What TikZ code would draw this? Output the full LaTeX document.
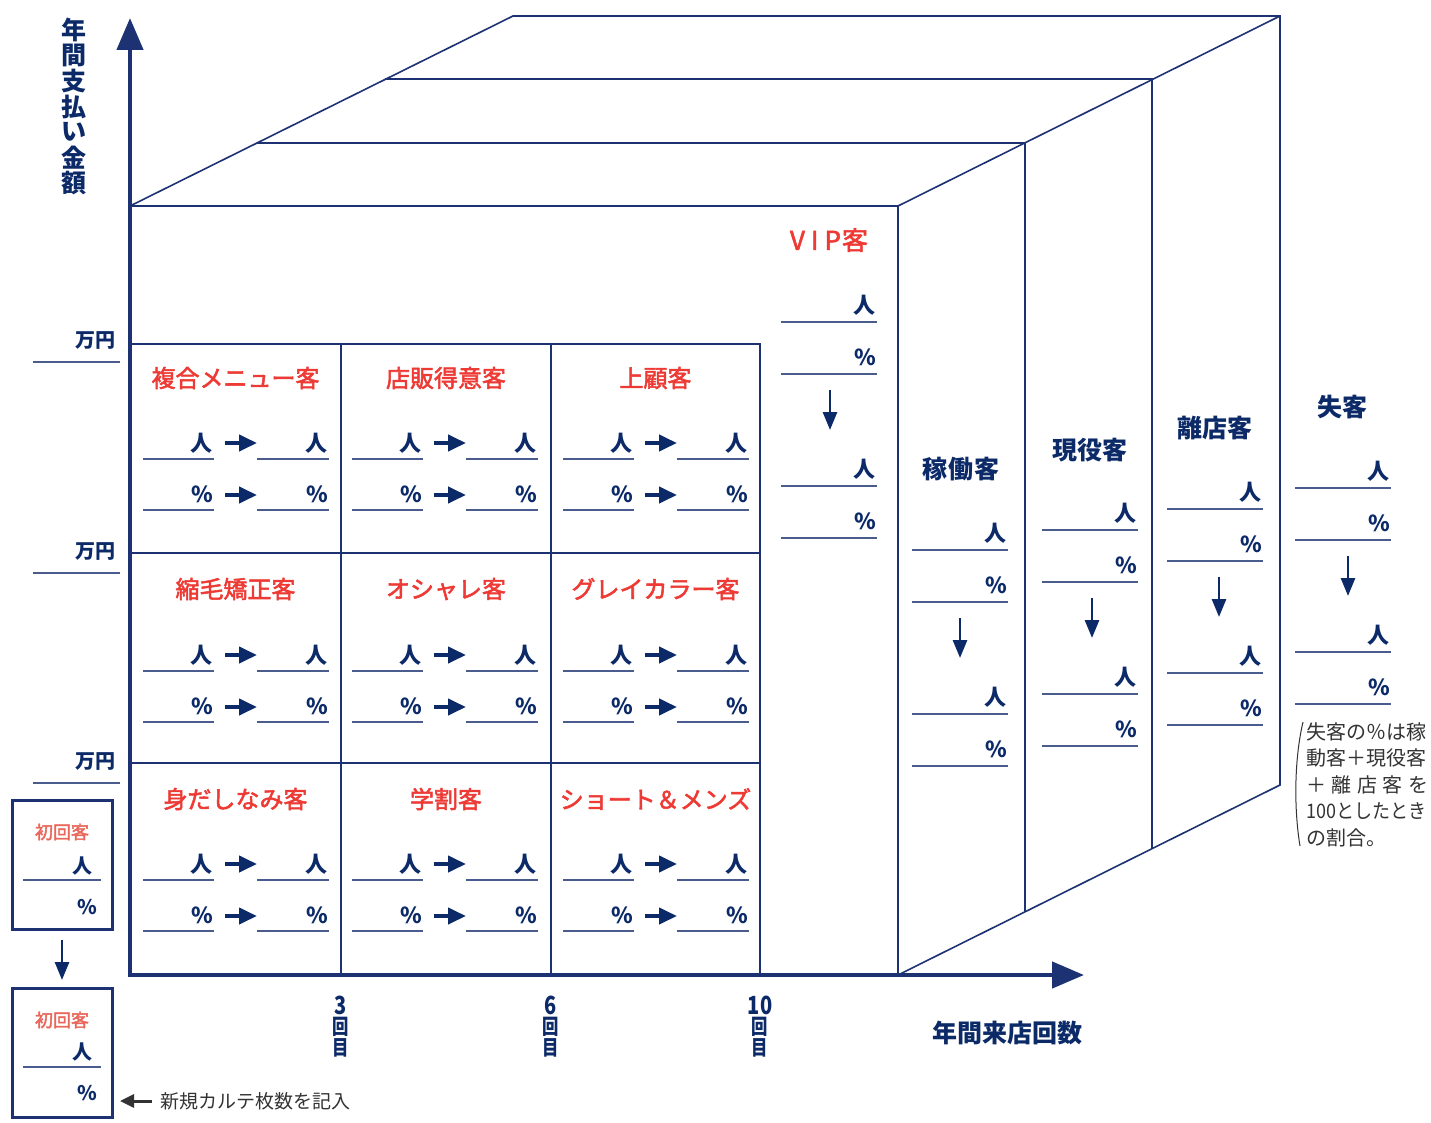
\documentclass[tikz,border=0pt]{standalone}
\usepackage{fontspec}
\usepackage{graphicx}
\newfontfamily\jp{Noto Sans CJK JP}
\newfontfamily\jpm{Noto Sans CJK JP}[FakeBold=2.2]
\usetikzlibrary{arrows.meta}
\definecolor{navy}{HTML}{0C2A68}
\definecolor{framec}{HTML}{1D3272}
\definecolor{ulc}{HTML}{4A5C8E}
\definecolor{redt}{HTML}{EE3A35}
\definecolor{pinkt}{HTML}{E8675A}
\definecolor{grayt}{HTML}{333333}
\newcommand\fs[1]{\fontsize{#1}{#1}\selectfont}
\tikzset{
 frameline/.style={draw=framec, line width=1.6pt},
 ul/.style={draw=ulc, line width=2.2pt},
 unit/.style={font=\jp\bfseries\fs{22}, text=navy, inner sep=0pt, anchor=base east},
 redtitle/.style={font=\jpm\fs{24}, text=redt, inner sep=0pt},
 navytitle/.style={font=\jp\bfseries\fs{25}, text=navy, inner sep=0pt},
 rarrow/.style={draw=navy, line width=4pt, -{Triangle[length=18pt,width=16pt]}},
 darrow/.style={draw=navy, line width=2.8pt, -{Triangle[length=18pt,width=14pt]}},
 axisline/.style={draw=framec, line width=4.5pt, -{Triangle[length=32pt,width=26pt]}},
 garrow/.style={draw=grayt, line width=3pt, -{Triangle[length=14pt,width=13pt]}},
 boxline/.style={draw=framec, line width=3pt, minimum width=100pt, minimum height=129pt, inner sep=0pt},
}
\newcommand\sidecol[4]{%
 \draw[ul] (#1,#2) -- ++(96,0); \node[unit] (#4a) at (#1+95,#2-9) {人};
 \draw[ul] (#1,#2+52) -- ++(96,0); \node[unit] (#4b) at (#1+95,#2+43) {\%};
 \coordinate (#4s) at (#3,#2+68); \coordinate (#4e) at (#3,#2+108);
 \draw[darrow] (#4s) -- (#4e);
 \draw[ul] (#1,#2+164) -- ++(96,0); \node[unit] (#4c) at (#1+95,#2+155) {人};
 \draw[ul] (#1,#2+216) -- ++(96,0); \node[unit] (#4d) at (#1+95,#2+207) {\%};
}
\begin{document}
\begin{tikzpicture}[x=1pt,y=-1pt]
\fill[white] (0,0) rectangle (1431,1123);
\useasboundingbox (0,0) rectangle (1431,1123);
% 3D layered box
\draw[frameline] (130,206) -- (513,16) -- (1280,16) -- (1280,785) -- (898,975);
\draw[frameline] (130,206) -- (898,206) -- (898,975);
\draw[frameline] (898,206) -- (1280,16);
\draw[frameline] (257,143) -- (1025,143) -- (1025,912);
\draw[frameline] (385,79) -- (1152,79) -- (1152,849);
% inner grid
\draw[frameline] (130,344) -- (760,344) -- (760,975);
\draw[frameline] (130,553) -- (760,553);
\draw[frameline] (130,763) -- (760,763);
\draw[frameline] (341,344) -- (341,975);
\draw[frameline] (551,344) -- (551,975);
% axes
\coordinate (origin) at (130,975);
\coordinate (ytip) at (130,18);
\coordinate (xtip) at (1084,975);
\draw[axisline] (130,977) -- (ytip);
\draw[axisline] (128,975) -- (xtip);
% y axis label
\foreach \ch [count=\i] in {年,間,支,払,い,金,額}
  \node[navytitle] (yl\i) at (74,{30+25.5*(\i-1)}) {\ch};
% y ticks
\foreach \ty [count=\i] in {341,552,762} {
  \node[font=\jp\bfseries\fs{20}, text=navy, inner sep=0pt, anchor=east] (man\i) at (116,\ty) {万円};
  \draw[ul] (33,\ty+21) -- (120,\ty+21);
}
% x tick labels
\foreach \tx/\num [count=\i] in {341/3,551/6,760/10} {
  \node[font=\jp\bfseries\fs{25}, text=navy, inner sep=0pt] (xn\i) at (\tx,1005) {\scalebox{0.8}[1]{\num}};
  \node[font=\jp\bfseries\fs{21}, text=navy, inner sep=0pt] (xk\i) at (\tx,1027) {\scalebox{0.78}[1]{回}};
  \node[font=\jp\bfseries\fs{21}, text=navy, inner sep=0pt] (xm\i) at (\tx,1048) {\scalebox{0.78}[1]{目}};
}
\node[navytitle] (xlabel) at (1007,1033) {年間来店回数};
% cell titles
\node[redtitle] (t11) at (235.5,378) {複合メニュー客};
\node[redtitle] (t12) at (446,378) {店販得意客};
\node[redtitle] (t13) at (655.5,378) {上顧客};
\node[redtitle] (t21) at (235.5,589) {縮毛矯正客};
\node[redtitle] (t22) at (446,589) {オシャレ客};
\node[redtitle] (t23) at (655.5,589) {グレイカラー客};
\node[redtitle] (t31) at (235.5,799) {身だしなみ客};
\node[redtitle] (t32) at (446,799) {学割客};
\node[redtitle] (t33) at (655.5,799) {ショート＆メンズ};
% cell contents
\foreach \cx [count=\c] in {143,352,563} {
  \foreach \ry [count=\r] in {459,671,880} {
    \draw[ul] (\cx,\ry) -- ++(71,0);
    \draw[ul] (\cx+114,\ry) -- ++(72,0);
    \node[unit] (pa\r\c) at (\cx+70,\ry-8) {人};
    \node[unit] (pb\r\c) at (\cx+185,\ry-8) {人};
    \coordinate (ps\r\c) at (\cx+82,\ry-16);
    \coordinate (pe\r\c) at (\cx+114,\ry-16);
    \draw[rarrow] (ps\r\c) -- (pe\r\c);
    \draw[ul] (\cx,\ry+51) -- ++(71,0);
    \draw[ul] (\cx+114,\ry+51) -- ++(72,0);
    \node[unit] (qa\r\c) at (\cx+70,\ry+43) {\%};
    \node[unit] (qb\r\c) at (\cx+185,\ry+43) {\%};
    \coordinate (qs\r\c) at (\cx+82,\ry+36);
    \coordinate (qe\r\c) at (\cx+114,\ry+36);
    \draw[rarrow] (qs\r\c) -- (qe\r\c);
  }
}
% VIP column
\node[font=\jpm\fs{26}, text=redt, inner sep=0pt] (vip) at (829,240) {V\hspace{6pt}I\hspace{6pt}P\hspace{1pt}客};
\sidecol{781}{322}{830}{vipc}
% side columns
\node[navytitle] (kado) at (961,469) {稼\hspace{1pt}働\hspace{1pt}客};
\sidecol{912}{550}{960}{kadoc}
\node[navytitle] (geneki) at (1090,450) {現役客};
\sidecol{1042}{530}{1092}{genc}
\node[navytitle] (riten) at (1215,428) {離店客};
\sidecol{1167}{509}{1219}{ritc}
\node[navytitle] (shikkyaku) at (1342,407) {失客};
\sidecol{1295}{488}{1348}{shic}
% note
\draw[grayt, line width=1pt] (1303,722) .. controls (1294,760) and (1294,810) .. (1300,846);
\begin{scope}[every node/.style={font=\jp\fs{20}, text=grayt, inner sep=0pt, anchor=west}]
\node (n1) at (1306,732) {\scalebox{1}[1]{失客の％は稼}};
\node (n2) at (1306,758) {\scalebox{1}[1]{動客＋現役客}};
\node (n3) at (1306,785) {\makebox[122pt][s]{＋\hfill 離\hfill 店\hfill 客\hfill を}};
\node (n4) at (1306,811) {\scalebox{0.9}[1]{100としたとき}};
\node (n5) at (1306,838) {の割合。};
\end{scope}
% first visit boxes
\node[boxline] (box1) at (62,865) {};
\node[boxline] (box2) at (62,1053) {};
\node[font=\jpm\fs{18}, text=pinkt, inner sep=0pt] (f1) at (62,832) {初回客};
\node[unit, font=\jp\bfseries\fs{20}] (f1a) at (93,873) {人};
\draw[ul] (23,880) -- (101,880);
\node[unit, font=\jp\bfseries\fs{20}] (f1b) at (97,914) {\%};
\node[font=\jpm\fs{18}, text=pinkt, inner sep=0pt] (f2) at (62,1020) {初回客};
\node[unit, font=\jp\bfseries\fs{20}] (f2a) at (93,1059) {人};
\draw[ul] (23,1067) -- (101,1067);
\node[unit, font=\jp\bfseries\fs{20}] (f2b) at (97,1100) {\%};
\coordinate (b1s) at (62,940);
\coordinate (b2e) at (62,980);
\draw[darrow] (b1s) -- (b2e);
\node[font=\jp\fs{19}, text=grayt, inner sep=0pt, anchor=west] (memo) at (160,1101) {新規カルテ枚数を記入};
\coordinate (memoarr) at (120,1101);
\draw[garrow] (memo.west) ++(-8,0) -- (memoarr);
\end{tikzpicture}
\end{document}
